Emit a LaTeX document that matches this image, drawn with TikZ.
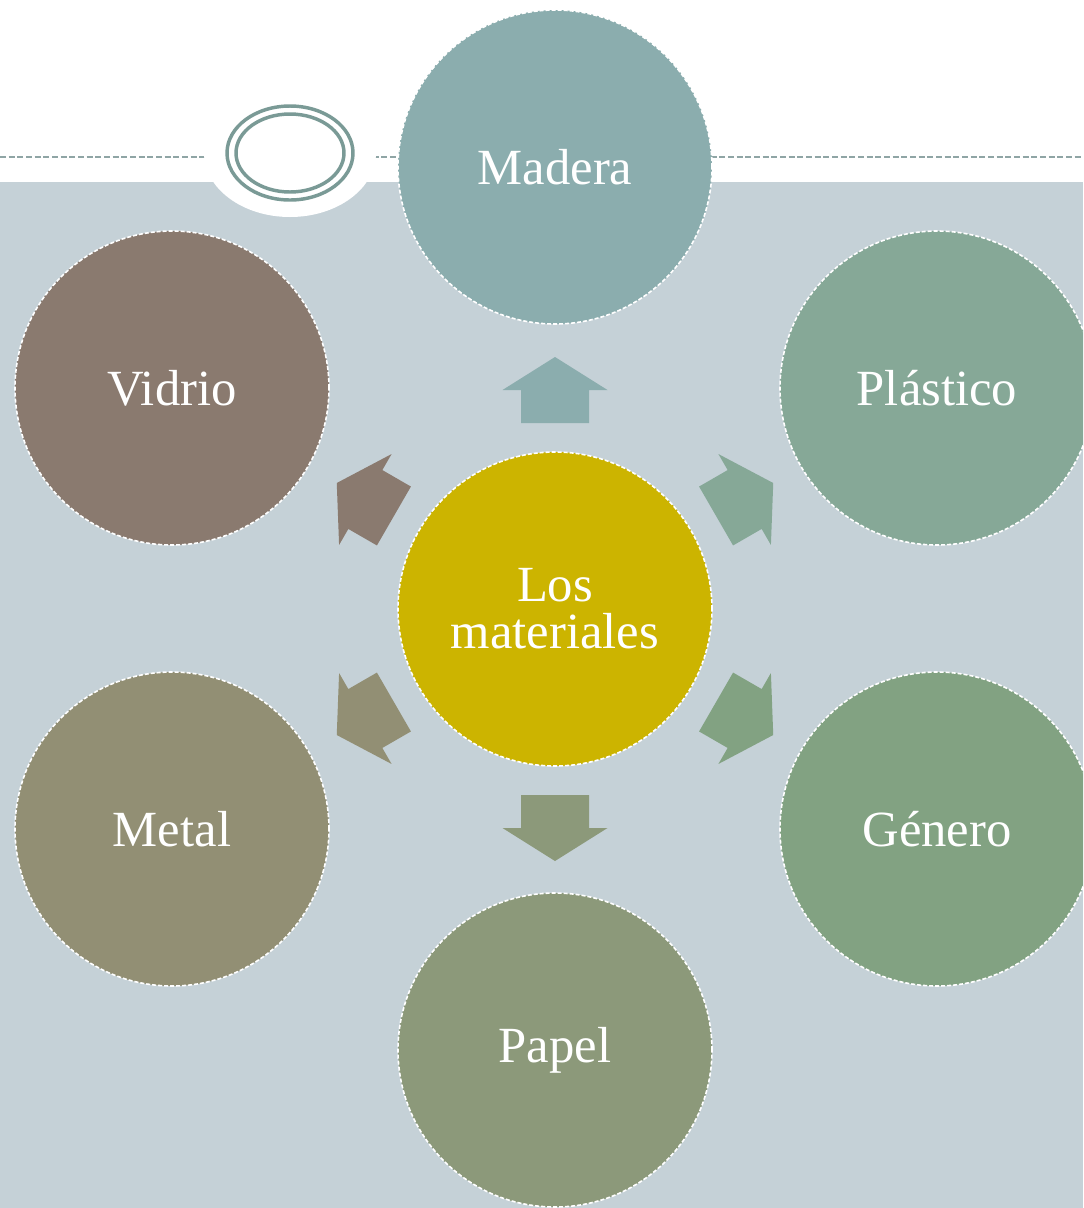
\documentclass[tikz,border=0pt]{standalone}
\usepackage{fontspec}
\setmainfont{Liberation Serif}
\definecolor{bgband}{HTML}{C5D1D7}
\definecolor{linecol}{HTML}{8FA5A5}
\definecolor{ornament}{HTML}{7A9A96}
\definecolor{cMadera}{HTML}{8BADAE}
\definecolor{cPlastico}{HTML}{86A897}
\definecolor{cGenero}{HTML}{82A282}
\definecolor{cPapel}{HTML}{8C997A}
\definecolor{cMetal}{HTML}{928F74}
\definecolor{cVidrio}{HTML}{8A7A6F}
\definecolor{cCenter}{HTML}{CCB400}
\begin{document}
\begin{tikzpicture}[x=0.75pt,y=-0.75pt,
  circ/.style={circle, minimum size=235.5pt, inner sep=0pt, draw=white,
    line width=1.2pt, dash pattern=on 3pt off 1.5pt, text=white,
    font=\fontsize{38}{35.25}\selectfont, align=center},
  blockarrow/.style={draw=none}]
\useasboundingbox (0,0) rectangle (1083,1208);
\clip (0,0) rectangle (1083,1208);
% background
\fill[white] (0,0) rectangle (1083,1208);
\fill[bgband] (0,182) rectangle (1083,1208);
% dashed top rule
\draw[linecol, line width=1.5pt, dash pattern=on 4.5pt off 2pt] (0,157) -- (1083,157);
% white notch behind ornament
\fill[white] (290,153) ellipse [x radius=86, y radius=64];
% ornament
\draw[ornament, line width=2.6pt] (290,153) ellipse [x radius=63, y radius=47];
\draw[ornament, line width=2.6pt] (290,153) ellipse [x radius=54, y radius=39];
% circles
\node[circ, fill=cCenter] (center) at (555,609) {Los\\materiales};
\node[circ, fill=cMadera] (madera) at (555,167) {Madera};
\node[circ, fill=cPlastico] (plastico) at (937,388) {Plástico};
\node[circ, fill=cGenero] (genero) at (937,829) {Género};
\node[circ, fill=cPapel] (papel) at (555,1050) {Papel};
\node[circ, fill=cMetal] (metal) at (172,829) {Metal};
\node[circ, fill=cVidrio] (vidrio) at (172,388) {Vidrio};
% block arrows
\foreach \a/\col in {90/cMadera, 30/cPlastico, -30/cGenero, -90/cPapel, 210/cMetal, 150/cVidrio}{
  \fill[blockarrow, \col, shift={({555+219*cos(\a)},{609-219*sin(\a)})}, rotate=\a]
    (-33,-34) -- (0,-34) -- (0,-52.5) -- (33,0) -- (0,52.5) -- (0,34) -- (-33,34) -- cycle;
}
\end{tikzpicture}
\end{document}
